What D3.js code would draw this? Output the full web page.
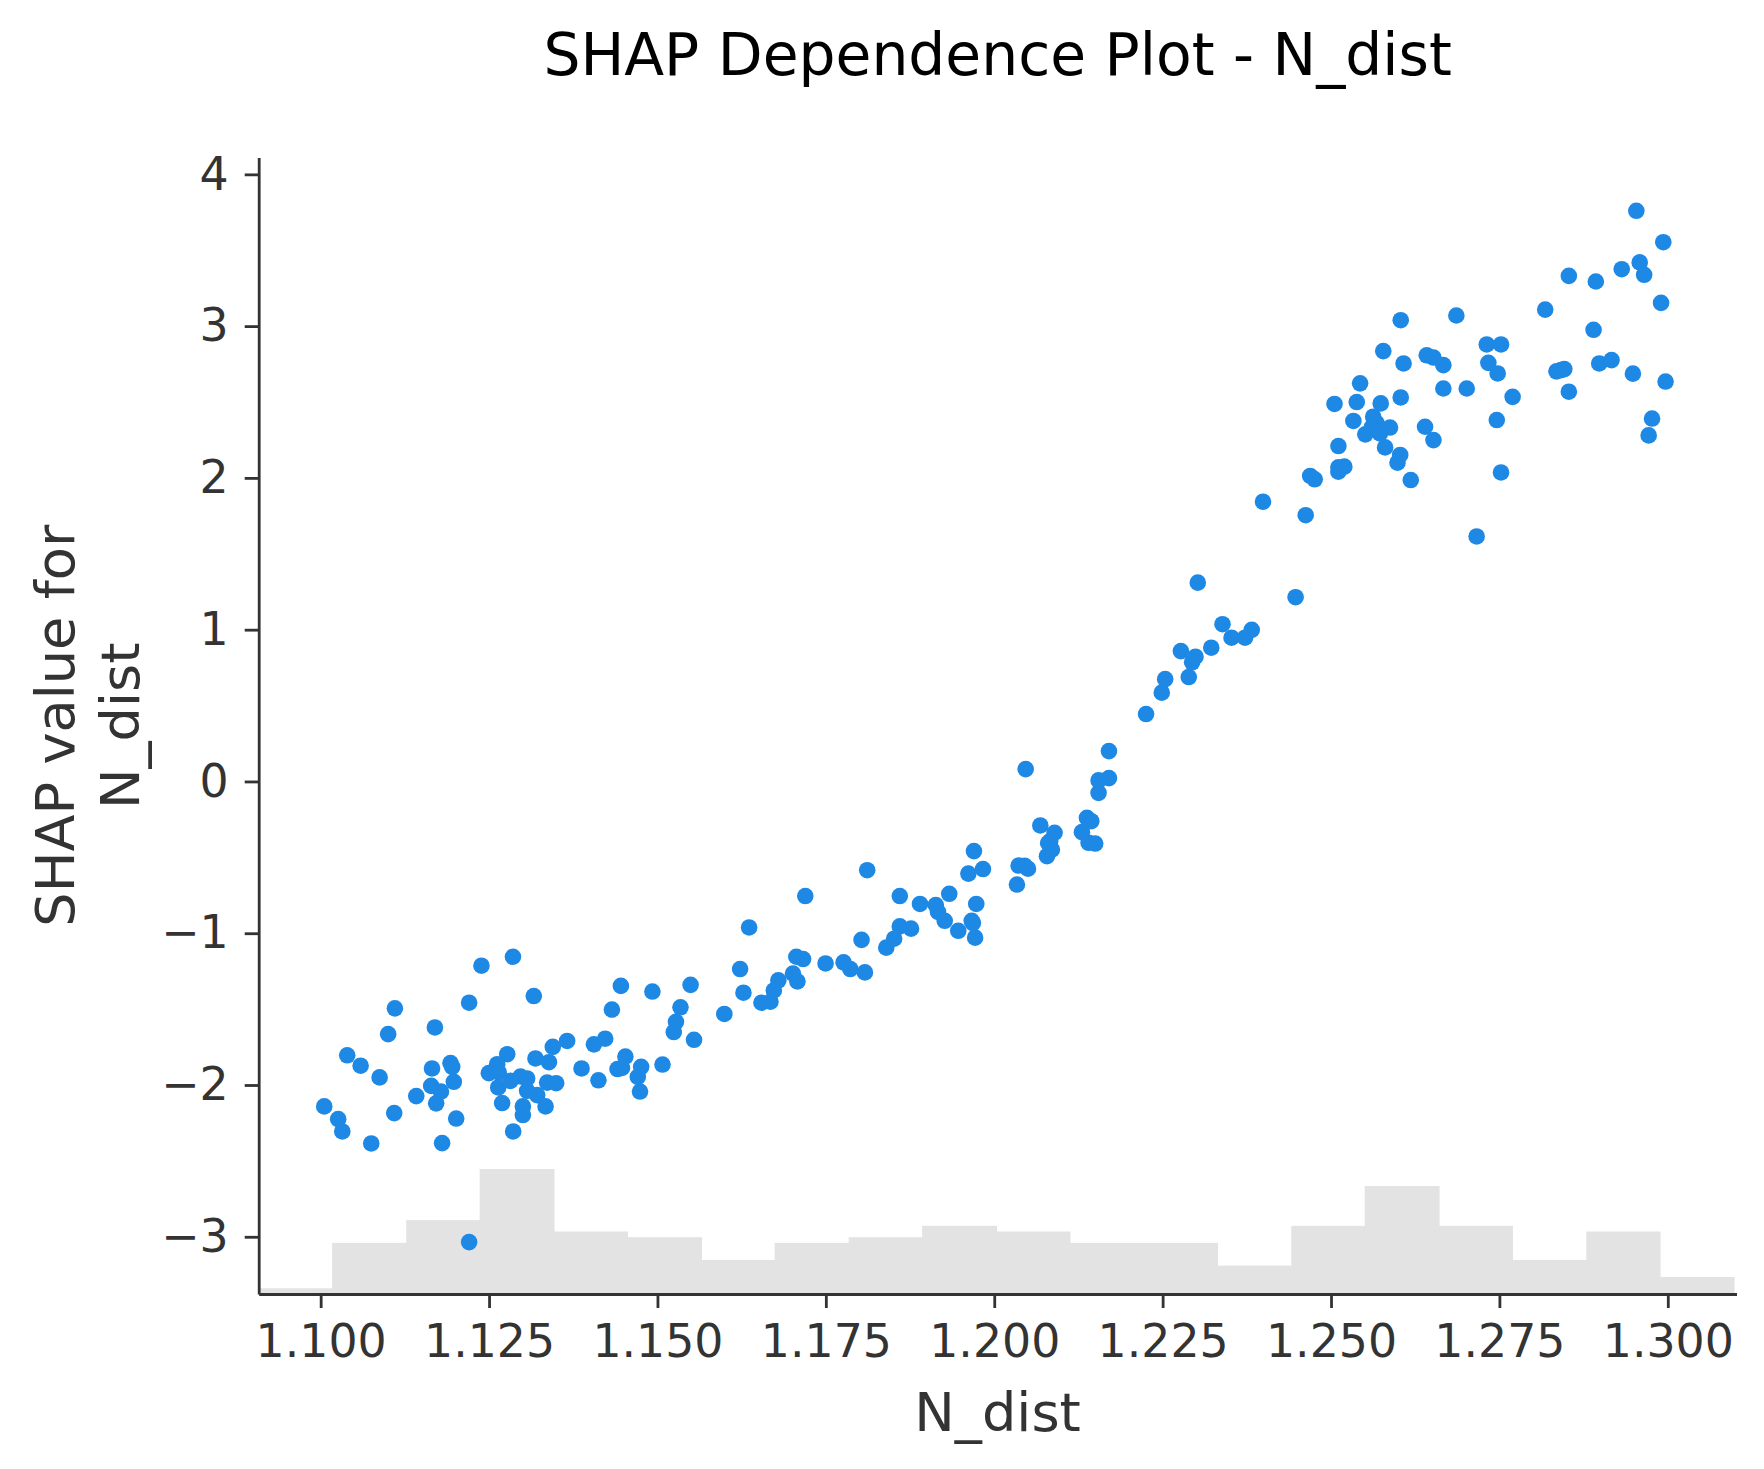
<!DOCTYPE html>
<html>
<head>
<meta charset="utf-8">
<script src="https://d3js.org/d3.v7.min.js"></script>
<style>
  body { margin: 0; background: #ffffff; }
  svg { display: block; }
</style>
</head>
<body>
<div id="chart"></div>
<script>
'use strict';

// feature values (x)
var nDist = [
  1.10053, 1.10260, 1.10321, 1.10394, 1.10593, 1.10751, 1.10875, 1.11002, 1.11092, 1.11102,
  1.11419, 1.11641, 1.11653, 1.11696, 1.11715, 1.11786, 1.11803, 1.11928, 1.11953, 1.11977,
  1.12012, 1.12204, 1.12204, 1.12387, 1.12497, 1.12621, 1.12644, 1.12636, 1.12694, 1.12770,
  1.12818, 1.12855, 1.12858, 1.12967, 1.13002, 1.13002, 1.13065, 1.13065, 1.13164, 1.13189,
  1.13214, 1.13339, 1.13362, 1.13389, 1.13446, 1.13496, 1.13659, 1.13873, 1.14057, 1.14124,
  1.14224, 1.14324, 1.14457, 1.14474, 1.14524, 1.14708, 1.14741, 1.14758, 1.14925, 1.15075,
  1.15242, 1.15275, 1.15342, 1.15492, 1.15543, 1.14407,
  1.15993, 1.16227, 1.16277, 1.16361, 1.16544, 1.16678, 1.16728, 1.16795, 1.17012, 1.17062,
  1.17078, 1.17162, 1.17195, 1.17496, 1.17763, 1.17863, 1.18030, 1.18080, 1.18114, 1.18397,
  1.18514, 1.18598, 1.18598, 1.18765, 1.18898, 1.19132, 1.19165, 1.19265, 1.19332, 1.19466,
  1.19616, 1.19666, 1.19699, 1.19716, 1.19733, 1.19833, 1.19683,
  1.20337, 1.20362, 1.20467, 1.20501, 1.20684, 1.20783, 1.20831, 1.20856, 1.20896, 1.20801,
  1.20451, 1.21302, 1.21376, 1.21441, 1.21401, 1.21499, 1.21549, 1.21549, 1.21703, 1.21703,
  1.22254, 1.22487, 1.22538, 1.22771, 1.22888, 1.22938, 1.22988, 1.23022, 1.23222, 1.23389,
  1.23523, 1.23723, 1.23823, 1.23990, 1.24474, 1.24624, 1.24691, 1.24758, 1.25052, 1.25110,
  1.25110, 1.25109, 1.25198, 1.25332, 1.25382, 1.25432, 1.25509, 1.25626, 1.25609, 1.25726,
  1.25738, 1.25776, 1.25803, 1.25876, 1.25987, 1.26027, 1.26035, 1.26035, 1.26077, 1.26184,
  1.26396, 1.26421, 1.26521, 1.26521, 1.25676, 1.26668, 1.26668, 1.26861, 1.27015, 1.27162,
  1.27312, 1.27336, 1.27474, 1.27461, 1.27524, 1.27524, 1.27696, 1.28180, 1.28347, 1.28464,
  1.28531, 1.28531, 1.28414, 1.28898, 1.28932, 1.28982, 1.29165, 1.29316, 1.29482, 1.29533,
  1.29583, 1.29649, 1.29716, 1.29766, 1.29900, 1.29933, 1.29967
];

// SHAP values (y), same order as nDist
var shapN = [
  -2.141, -2.225, -2.306, -1.804, -1.873, -2.385, -1.950, -1.665, -2.185, -1.495,
  -2.073, -2.006, -1.891, -1.621, -2.121, -2.043, -2.383, -1.856, -1.880, -1.979,
  -2.221, -1.458, -3.035, -1.214, -1.922, -1.863, -1.917, -2.016, -2.119, -1.797,
  -1.973, -1.155, -2.306, -1.944, -2.141, -2.198, -1.957, -2.038, -1.414, -1.825,
  -2.067, -2.141, -1.984, -1.850, -1.749, -1.988, -1.710, -1.891, -1.732, -1.969,
  -1.695, -1.503, -1.347, -1.888, -1.813, -1.947, -2.043, -1.880, -1.384, -1.865,
  -1.651, -1.584, -1.488, -1.340, -1.702, -1.895,
  -1.532, -1.236, -1.392, -0.962, -1.458, -1.451, -1.377, -1.310, -1.266, -1.155,
  -1.318, -1.170, -0.755, -1.199, -1.192, -1.236, -1.044, -1.258, -0.585, -1.095,
  -1.036, -0.955, -0.755, -0.970, -0.807, -0.814, -0.859, -0.918, -0.740, -0.984,
  -0.607, -0.918, -0.459, -1.029, -0.807, -0.577, -0.933,
  -0.679, -0.554, 0.081, -0.575, -0.290, -0.492, -0.393, -0.449, -0.338, -0.407,
  -0.555, -0.334, -0.240, -0.262, -0.404, -0.409, -0.075, 0.007, 0.022, 0.200,
  0.444, 0.585, 0.674, 0.859, 0.688, 0.785, 0.822, 1.310, 0.881, 1.036,
  0.947, 0.947, 0.999, 1.843, 1.214, 1.754, 2.013, 1.991, 2.487, 2.210,
  2.070, 2.041, 2.074, 2.375, 2.500, 2.623, 2.287, 2.403, 2.337, 2.293,
  2.491, 2.835, 2.201, 2.332, 2.100, 2.151, 2.530, 3.039, 2.754, 1.986,
  2.337, 2.808, 2.793, 2.249, 2.361, 2.743, 2.589, 3.070, 2.589, 1.614,
  2.879, 2.758, 2.688, 2.381, 2.879, 2.036, 2.534, 3.109, 2.702, 2.717,
  2.568, 3.331, 2.710, 2.976, 3.294, 2.754, 2.776, 3.375, 2.687, 3.760,
  3.420, 3.338, 2.280, 2.391, 3.153, 3.553, 2.635
];

// histogram of N_dist drawn under the points
var histEdges = [
  1.0908, 1.1017, 1.1127, 1.1236, 1.1346, 1.1455, 1.1565, 1.1674, 1.1784, 1.1893, 1.2003,
  1.2112, 1.2222, 1.2331, 1.2441, 1.2550, 1.2660, 1.2769, 1.2879, 1.2988, 1.3098
];
var histCounts = [1, 9, 13, 22, 11, 10, 6, 9, 10, 12, 11, 9, 9, 5, 12, 19, 12, 6, 11, 3];

var xTicks = [1.100, 1.125, 1.150, 1.175, 1.200, 1.225, 1.250, 1.275, 1.300];
var yTicks = [-3, -2, -1, 0, 1, 2, 3, 4];

var W = 1764, H = 1469;
var plotLeft = 258.7, plotRight = 1736.5, plotTop = 157.5, plotBottom = 1294;
var font = "'DejaVu Sans', sans-serif";
var axisColor = '#333333';
var dotColor = '#1E88E5';
var histColor = '#e3e3e3';

var svg = d3.select('#chart')
  .append('svg')
  .attr('width', W)
  .attr('height', H)
  .attr('viewBox', '0 0 ' + W + ' ' + H);

var x = d3.scaleLinear().domain([1.0908, 1.3102]).range([plotLeft, plotRight]);
var y = d3.scaleLinear().domain([-3.377, 4.111]).range([plotBottom, plotTop]);
// histogram bar heights, in pixels per count
var hy = d3.scaleLinear().domain([0, 22]).range([0, 125]);

svg.append('clipPath')
  .attr('id', 'plotClip')
  .append('rect')
  .attr('x', plotLeft)
  .attr('y', plotTop)
  .attr('width', plotRight - plotLeft)
  .attr('height', plotBottom - plotTop);

// histogram (bars widened a hair so no seams show between them)
svg.append('g')
  .attr('clip-path', 'url(#plotClip)')
  .selectAll('rect')
  .data(histCounts)
  .enter()
  .append('rect')
  .attr('x', function (d, i) { return x(histEdges[i]); })
  .attr('width', function (d, i) { return x(histEdges[i + 1]) - x(histEdges[i]) + 0.8; })
  .attr('y', function (d) { return plotBottom - hy(d); })
  .attr('height', function (d) { return hy(d); })
  .attr('fill', histColor);

// points
svg.append('g')
  .selectAll('circle')
  .data(nDist)
  .enter()
  .append('circle')
  .attr('cx', function (d) { return x(d); })
  .attr('cy', function (d, i) { return y(shapN[i]); })
  .attr('r', 8.3)
  .attr('fill', dotColor);

function minus(v) {
  return v < 0 ? '\u2212' + Math.abs(v) : String(v);
}

var xAxis = svg.append('g')
  .attr('transform', 'translate(0,' + plotBottom + ')')
  .call(d3.axisBottom(x)
    .tickValues(xTicks)
    .tickFormat(d3.format('.3f'))
    .tickSize(14)
    .tickSizeOuter(0)
    .tickPadding(16));

var yAxis = svg.append('g')
  .attr('transform', 'translate(' + plotLeft + ',0)')
  .call(d3.axisLeft(y)
    .tickValues(yTicks)
    .tickFormat(minus)
    .tickSize(14)
    .tickSizeOuter(0)
    .tickPadding(16));

[xAxis, yAxis].forEach(function (g) {
  g.select('.domain').attr('stroke', axisColor).attr('stroke-width', 2.8);
  g.selectAll('.tick line').attr('stroke', axisColor).attr('stroke-width', 2.8);
  g.selectAll('.tick text')
    .attr('fill', axisColor)
    .style('font-family', font)
    .style('font-size', '45.8px');
});

// title
svg.append('text')
  .attr('x', (plotLeft + plotRight) / 2)
  .attr('y', 75)
  .attr('text-anchor', 'middle')
  .style('font-family', font)
  .style('font-size', '58.3px')
  .attr('fill', '#000000')
  .text('SHAP Dependence Plot - N_dist');

// x label
svg.append('text')
  .attr('x', (plotLeft + plotRight) / 2)
  .attr('y', 1431)
  .attr('text-anchor', 'middle')
  .style('font-family', font)
  .style('font-size', '54.2px')
  .attr('fill', axisColor)
  .text('N_dist');

// y label, two lines
var yLabelLines = ['SHAP value for', 'N_dist'];
yLabelLines.forEach(function (line, i) {
  svg.append('text')
    .attr('transform', 'translate(' + (74 + i * 65) + ',' + ((plotTop + plotBottom) / 2) + ') rotate(-90)')
    .attr('text-anchor', 'middle')
    .style('font-family', font)
    .style('font-size', '54.2px')
    .attr('fill', axisColor)
    .text(line);
});
</script>
</body>
</html>
